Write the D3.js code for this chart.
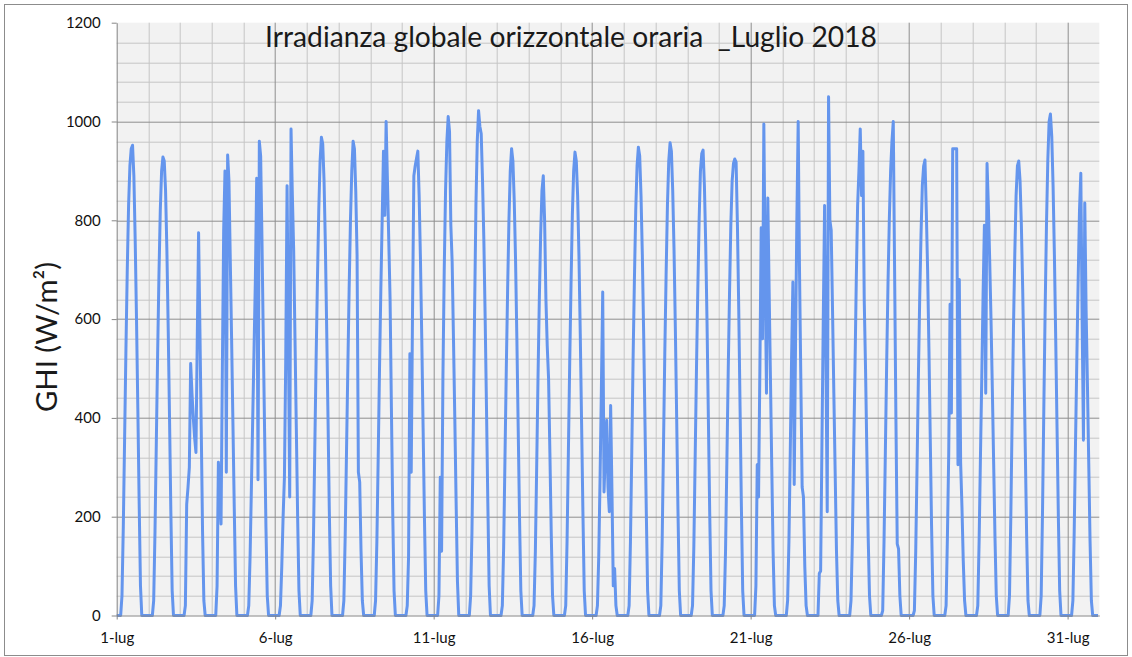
<!DOCTYPE html>
<html>
<head>
<meta charset="utf-8">
<script src="https://cdn.jsdelivr.net/npm/d3@7"></script>
<style>
  body { margin: 0; background: #fff; }
  svg { display: block; }
  .axis text { font-family: Lato, "Liberation Sans", sans-serif; font-size: 15px; fill: #111; }
  .axis path, .axis line { stroke: #868686; }
</style>
</head>
<body>
<div id="chart"></div>
<script>
const title = "Irradianza globale orizzontale oraria  _Luglio 2018";
const yLabel = "GHI (W/m\u00B2)";

const yTicks = [0, 200, 400, 600, 800, 1000, 1200];
const xTickDays = [1, 6, 11, 16, 21, 26, 31];
const xTickLabels = ["1-lug", "6-lug", "11-lug", "16-lug", "21-lug", "26-lug", "31-lug"];

// hourly GHI (W/m2), one row per day of July 2018, hours 0..23
const ghiByDay = [
  [0,0,0,0,40,180,360,540,700,830,910,945,952,890,760,600,420,230,60,0,0,0,0,0],
  [0,0,0,0,30,170,350,530,690,820,900,928,920,860,740,580,400,210,50,0,0,0,0,0],
  [0,0,0,0,20,225,260,300,510,450,400,360,330,560,775,580,380,170,30,0,0,0,0,0],
  [0,0,0,0,60,310,250,185,500,780,900,290,932,880,720,560,390,220,60,0,0,0,0,0],
  [0,0,0,0,20,120,260,400,540,680,885,275,960,930,760,560,370,180,40,0,0,0,0,0],
  [0,0,0,0,20,100,200,280,520,870,560,240,985,850,740,560,380,200,50,0,0,0,0,0],
  [0,0,0,0,30,160,340,520,680,820,920,968,955,880,750,580,400,210,60,0,0,0,0,0],
  [0,0,0,0,30,160,330,500,660,800,900,960,945,860,730,290,270,130,30,0,0,0,0,0],
  [0,0,0,0,30,150,320,500,660,800,940,810,1000,880,760,640,420,210,50,0,0,0,0,0],
  [0,0,0,0,20,120,530,290,620,890,910,925,940,850,720,560,380,200,50,0,0,0,0,0],
  [0,0,0,0,40,280,130,480,700,860,960,1010,980,790,715,560,400,230,70,0,0,0,0,0],
  [0,0,0,0,40,170,380,620,830,960,1022,990,975,880,760,600,420,230,60,0,0,0,0,0],
  [0,0,0,0,20,140,320,500,660,800,900,945,920,840,720,560,380,200,50,0,0,0,0,0],
  [0,0,0,0,20,130,300,480,640,770,860,890,800,640,545,480,330,170,40,0,0,0,0,0],
  [0,0,0,0,20,150,330,510,670,810,900,938,920,850,730,570,390,210,50,0,0,0,0,0],
  [0,0,0,0,20,120,280,460,655,250,330,395,260,210,425,250,60,95,20,0,0,0,0,0],
  [0,0,0,0,20,150,330,520,680,820,910,948,930,850,730,570,390,210,50,0,0,0,0,0],
  [0,0,0,0,20,150,340,530,690,830,920,957,940,860,740,580,400,210,50,0,0,0,0,0],
  [0,0,0,0,20,140,320,500,660,800,900,935,942,870,750,590,400,210,50,0,0,0,0,0],
  [0,0,0,0,20,130,310,490,650,790,880,915,924,918,790,620,420,220,50,0,0,0,0,0],
  [0,0,0,0,60,305,240,500,785,560,995,700,450,845,660,480,300,130,20,0,0,0,0,0],
  [0,0,0,0,30,150,330,520,675,265,550,800,1000,700,480,260,240,100,20,0,0,0,0,0],
  [0,0,0,0,85,90,350,600,830,520,210,1050,800,780,620,450,290,130,30,0,0,0,0,0],
  [0,0,0,0,30,150,330,500,680,830,900,985,850,940,640,500,330,160,40,0,0,0,0,0],
  [0,0,0,0,10,150,330,510,670,800,900,960,1000,700,400,145,135,40,0,0,0,0,0,0],
  [0,0,0,0,10,130,300,480,640,770,870,910,922,820,700,540,360,180,40,0,0,0,0,0],
  [0,0,0,0,20,160,330,630,410,945,945,945,945,305,680,310,220,110,30,0,0,0,0,0],
  [0,0,0,0,20,150,320,480,650,790,450,915,830,720,600,460,310,160,40,0,0,0,0,0],
  [0,0,0,0,40,200,400,580,730,850,910,920,880,790,660,500,330,160,30,0,0,0,0,0],
  [0,0,0,0,40,210,420,620,790,920,1000,1015,970,870,730,560,380,200,50,0,0,0,0,0],
  [0,0,0,0,30,170,350,520,680,820,895,600,355,835,620,470,310,150,30,0,0,0,0,0]
];

const W = 1132, H = 657;
const margin = {top: 22.7, right: 32.7, bottom: 41.5, left: 116.7};
const width = W - margin.left - margin.right;
const height = H - margin.top - margin.bottom;

const data = ghiByDay.flatMap((row, d) =>
  row.map((v, h) => ({date: new Date(2018, 6, d + 1, h), value: v})));

const root = d3.select("#chart").append("svg")
  .attr("width", W)
  .attr("height", H);

root.append("rect")
  .attr("x", 4.5).attr("y", 4.5)
  .attr("width", W - 9).attr("height", H - 6)
  .style("fill", "#fff")
  .style("stroke", "#8c8c8c");

const svg = root.append("g")
  .attr("transform", "translate(" + margin.left + "," + margin.top + ")");

const x = d3.scaleTime()
  .domain([new Date(2018, 6, 1), new Date(2018, 7, 1)])
  .range([0, width]);

const y = d3.scaleLinear()
  .domain([0, 1200])
  .range([height, 0]);

svg.append("rect")
  .attr("width", width)
  .attr("height", height)
  .style("fill", "#f2f2f2");

// gridlines: minor every 40 W/m2 and every day, major every 200 and every 5 days
const days = d3.timeDay.range(new Date(2018, 6, 2), new Date(2018, 7, 1));
const minorY = d3.range(40, 1200, 40).filter(v => v % 200 !== 0);
const majorY = yTicks.filter(v => v > 0 && v < 1200);

svg.append("g")
  .attr("class", "grid minor")
  .selectAll("line")
  .data(minorY)
  .enter().append("line")
  .attr("x1", 0).attr("x2", width)
  .attr("y1", d => Math.round(y(d)) + 0.5)
  .attr("y2", d => Math.round(y(d)) + 0.5)
  .style("stroke", "#c6c6c6");

svg.append("g")
  .attr("class", "grid minor")
  .selectAll("line")
  .data(days.filter(d => (d.getDate() - 1) % 5 !== 0))
  .enter().append("line")
  .attr("x1", d => Math.round(x(d)) + 0.5)
  .attr("x2", d => Math.round(x(d)) + 0.5)
  .attr("y1", 0).attr("y2", height)
  .style("stroke", "#c6c6c6");

svg.append("g")
  .attr("class", "grid major")
  .selectAll("line")
  .data(majorY)
  .enter().append("line")
  .attr("x1", 0).attr("x2", width)
  .attr("y1", d => Math.round(y(d)) + 0.5)
  .attr("y2", d => Math.round(y(d)) + 0.5)
  .style("stroke", "#8e8e8e");

svg.append("g")
  .attr("class", "grid major")
  .selectAll("line")
  .data(days.filter(d => (d.getDate() - 1) % 5 === 0))
  .enter().append("line")
  .attr("x1", d => Math.round(x(d)) + 0.5)
  .attr("x2", d => Math.round(x(d)) + 0.5)
  .attr("y1", 0).attr("y2", height)
  .style("stroke", "#8e8e8e");

const line = d3.line()
  .x(d => x(d.date))
  .y(d => y(d.value));

svg.append("path")
  .datum(data)
  .attr("d", line)
  .style("fill", "none")
  .style("stroke", "#6495ed")
  .style("stroke-width", 3)
  .style("stroke-linejoin", "round");

const yAxis = d3.axisLeft(y)
  .tickValues(yTicks)
  .tickFormat(d3.format("d"))
  .tickSize(5)
  .tickSizeOuter(0)
  .tickPadding(11);

const xAxis = d3.axisBottom(x)
  .tickValues(xTickDays.map(d => new Date(2018, 6, d)))
  .tickFormat((d, i) => xTickLabels[i])
  .tickSize(4)
  .tickSizeOuter(0)
  .tickPadding(13);

svg.append("g")
  .attr("class", "y axis")
  .call(yAxis);

svg.append("g")
  .attr("class", "x axis")
  .attr("transform", "translate(0," + height + ")")
  .call(xAxis);

// title, sized so it spans the same width as in the original
const t = root.append("text")
  .attr("x", 571)
  .attr("y", 47)
  .attr("text-anchor", "middle")
  .style("font-family", "Lato, 'Liberation Sans', sans-serif")
  .style("font-size", "28px")
  .style("fill", "#1a1a1a")
  .style("white-space", "pre")
  .attr("xml:space", "preserve")
  .text(title);
const tw = t.node().getComputedTextLength();
t.style("font-size", (28 * 612 / tw).toFixed(2) + "px");

const yl = root.append("text")
  .attr("transform", "translate(57,337) rotate(-90)")
  .attr("text-anchor", "middle")
  .style("font-family", "Lato, 'Liberation Sans', sans-serif")
  .style("font-size", "26px")
  .style("fill", "#1a1a1a")
  .text(yLabel);
const yw = yl.node().getComputedTextLength();
yl.style("font-size", (26 * 150 / yw).toFixed(2) + "px");
</script>
</body>
</html>
